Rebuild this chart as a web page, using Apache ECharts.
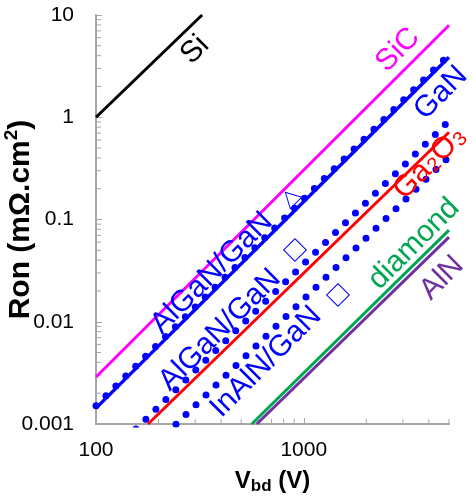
<!DOCTYPE html>
<html><head><meta charset="utf-8">
<script src="https://cdn.jsdelivr.net/npm/echarts@6/dist/echarts.min.js"></script>
<style>html,body{margin:0;padding:0;background:#fff}#c{width:476px;height:500px}</style>
</head><body><div id="c"></div>
<script>
// ---- data ----
const xTickLabels = [100, 1000];
const yTickLabels = [0.001, 0.01, 0.1, 1, 10];
const xMinorTicks = [200, 300, 400, 500, 600, 700, 800, 900, 2000, 3000, 4000, 5000];
const yMinorTicks = [0.002, 0.003, 0.004, 0.005, 0.006, 0.007, 0.008, 0.009,
                     0.02, 0.03, 0.04, 0.05, 0.06, 0.07, 0.08, 0.09,
                     0.2, 0.3, 0.4, 0.5, 0.6, 0.7, 0.8, 0.9,
                     2, 3, 4, 5, 6, 7, 8, 9];
const siV = [100, 324],        siR = [1, 10];
const sicV = [100, 5000],      sicR = [0.00288, 7.94];
const ganV = [100, 5000],      ganR = [0.00143, 3.87];
const ga2o3V = [178, 5000],    ga2o3R = [0.001, 0.714];
const diamondV = [562, 5000],  diamondR = [0.001, 0.0787];
const alnV = [594, 5000],      alnR = [0.001, 0.0673];
const alganTriV = [100, 5000], alganTriR = [0.00151, 4.1];
const alganSqV = [100, 5000],  alganSqR = [0.000369, 0.92];
const inalnV = [100, 5000],    inalnR = [0.00017, 0.41];

const FONT = '"Liberation Sans", Arial, sans-serif';
const pts = (xs, ys) => xs.map((x, i) => [x, ys[i]]);
const solid = (name, xs, ys, color, w) => ({
  type: 'line', name, data: pts(xs, ys), symbol: 'none', silent: true, clip: true,
  lineStyle: { color, width: w }, z: 3
});
const dotted = (name, xs, ys) => ({
  type: 'line', name, data: pts(xs, ys), symbol: 'none', silent: true, clip: true,
  lineStyle: { color: '#0000ff', width: 7, type: [0, 14], cap: 'round' }, z: 2
});

const chart = echarts.init(document.getElementById('c'), null, { renderer: 'canvas' });
const axisGrey = '#a6a6a6';
const lbl = (x, y, text, color, extra) => Object.assign({
  type: 'text', x, y, rotation: Math.PI / 4, z: 10,
  style: { text, fill: color, fontSize: 30, fontFamily: FONT, align: 'center', verticalAlign: 'middle' }
}, extra || {});

chart.setOption({
  animation: false,
  backgroundColor: '#fff',
  grid: { left: 96, right: 27, top: 15, bottom: 76, containLabel: false, outerBoundsMode: 'none' },
  xAxis: {
    type: 'log', logBase: 10, min: 100, max: 5000,
    name: '{v|V}{s|bd}{v| (V)}', nameLocation: 'middle', nameGap: 44,
    nameTextStyle: {
      rich: {
        v: { fontSize: 24, fontWeight: 'bold', fontFamily: FONT, color: '#000', lineHeight: 26, verticalAlign: 'top' },
        s: { fontSize: 17, fontWeight: 'bold', fontFamily: FONT, color: '#000', lineHeight: 17, padding: [12, 0, 0, 0], verticalAlign: 'bottom' }
      }
    },
    axisLine: { show: true, lineStyle: { color: axisGrey, width: 2 } },
    axisTick: { show: true, inside: true, length: 6, lineStyle: { color: axisGrey, width: 1 } },
    axisLabel: {
      color: '#000', fontSize: 21, fontFamily: FONT, margin: 16, showMaxLabel: false,
      formatter: v => xTickLabels.some(t => Math.abs(t - v) < 1e-6 * t) ? String(v) : ''
    },
    splitLine: { show: false }
  },
  yAxis: {
    type: 'log', logBase: 10, min: 0.001, max: 10,
    name: '{r|Ron (mΩ.cm}{p|2}{r|)}', nameLocation: 'middle', nameGap: 60, nameRotate: 90,
    nameMoveOverlap: false,
    nameTextStyle: {
      rich: {
        r: { fontSize: 30, fontWeight: 'bold', fontFamily: FONT, color: '#000', lineHeight: 34, verticalAlign: 'bottom' },
        p: { fontSize: 19, fontWeight: 'bold', fontFamily: FONT, color: '#000', lineHeight: 19, padding: [0, 0, 15, 0], verticalAlign: 'top' }
      }
    },
    axisLine: { show: true, lineStyle: { color: axisGrey, width: 2 } },
    axisTick: { show: true, inside: true, length: 6, lineStyle: { color: axisGrey, width: 1 } },
    axisLabel: {
      color: '#000', fontSize: 21, fontFamily: FONT, margin: 22,
      formatter: v => {
        const t = yTickLabels.find(t => Math.abs(t - v) < 1e-6 * t);
        return t === undefined ? '' : String(t);
      }
    },
    splitLine: { show: false }
  },
  series: [
    solid('Si', siV, siR, '#000000', 3),
    solid('SiC', sicV, sicR, '#ff00ff', 3),
    solid('GaN', ganV, ganR, '#0000ff', 3.5),
    solid('Ga2O3', ga2o3V, ga2o3R, '#ff0000', 3),
    solid('diamond', diamondV, diamondR, '#00a651', 3),
    solid('AlN', alnV, alnR, '#7030a0', 3),
    dotted('AlGaN/GaN tri', alganTriV, alganTriR),
    dotted('AlGaN/GaN sq', alganSqV, alganSqR),
    dotted('InAlN/GaN', inalnV, inalnR),
    {
      type: 'custom', silent: true, clip: false, z: 1,
      data: xMinorTicks.map(v => [v, yTickLabels[0]]),
      renderItem: (p, api) => {
        const c = api.coord([api.value(0), api.value(1)]);
        return { type: 'line', shape: { x1: c[0], y1: c[1], x2: c[0], y2: c[1] - 5 }, style: { stroke: axisGrey, lineWidth: 1 } };
      }
    },
    {
      type: 'custom', silent: true, clip: false, z: 1,
      data: yMinorTicks.map(v => [xTickLabels[0], v]),
      renderItem: (p, api) => {
        const c = api.coord([api.value(0), api.value(1)]);
        return { type: 'line', shape: { x1: c[0], y1: c[1], x2: c[0] + 5, y2: c[1] }, style: { stroke: axisGrey, lineWidth: 1 } };
      }
    }
  ],
  graphic: [
    lbl(195, 50, 'Si', '#000000'),
    lbl(398, 50, 'SiC', '#ff00ff'),
    lbl(441, 93, 'GaN', '#0000ff'),
    {
      type: 'text', x: 430, y: 163, rotation: Math.PI / 4, z: 10,
      style: {
        text: '{m|Ga}{s|2}{m|O}{s|3}', align: 'center', verticalAlign: 'middle',
        rich: {
          m: { fontSize: 30, fontFamily: FONT, fill: '#ff0000', lineHeight: 30, verticalAlign: 'top' },
          s: { fontSize: 20, fontFamily: FONT, fill: '#ff0000', lineHeight: 20, padding: [13, 1, 0, 1], verticalAlign: 'bottom' }
        }
      }
    },
    lbl(414, 244, 'diamond', '#00a651'),
    lbl(442, 278, 'AlN', '#7030a0'),
    lbl(212, 273, 'AlGaN/GaN', '#0000ff'),
    lbl(220, 330, 'AlGaN/GaN', '#0000ff'),
    lbl(266, 362, 'InAlN/GaN', '#0000ff'),
    {
      type: 'polygon', x: 291, y: 198, rotation: Math.PI / 4, z: 10,
      shape: { points: [[-8, 7], [8, 7], [0, -8]] },
      style: { fill: 'none', stroke: '#0000ff', lineWidth: 1 }
    },
    {
      type: 'rect', x: 295, y: 250, rotation: Math.PI / 4, z: 10,
      shape: { x: -8, y: -8, width: 16, height: 16 },
      style: { fill: 'none', stroke: '#0000ff', lineWidth: 1 }
    },
    {
      type: 'rect', x: 338, y: 295, rotation: Math.PI / 4, z: 10,
      shape: { x: -8, y: -8, width: 16, height: 16 },
      style: { fill: 'none', stroke: '#0000ff', lineWidth: 1 }
    }
  ]
});
</script>
</body></html>
